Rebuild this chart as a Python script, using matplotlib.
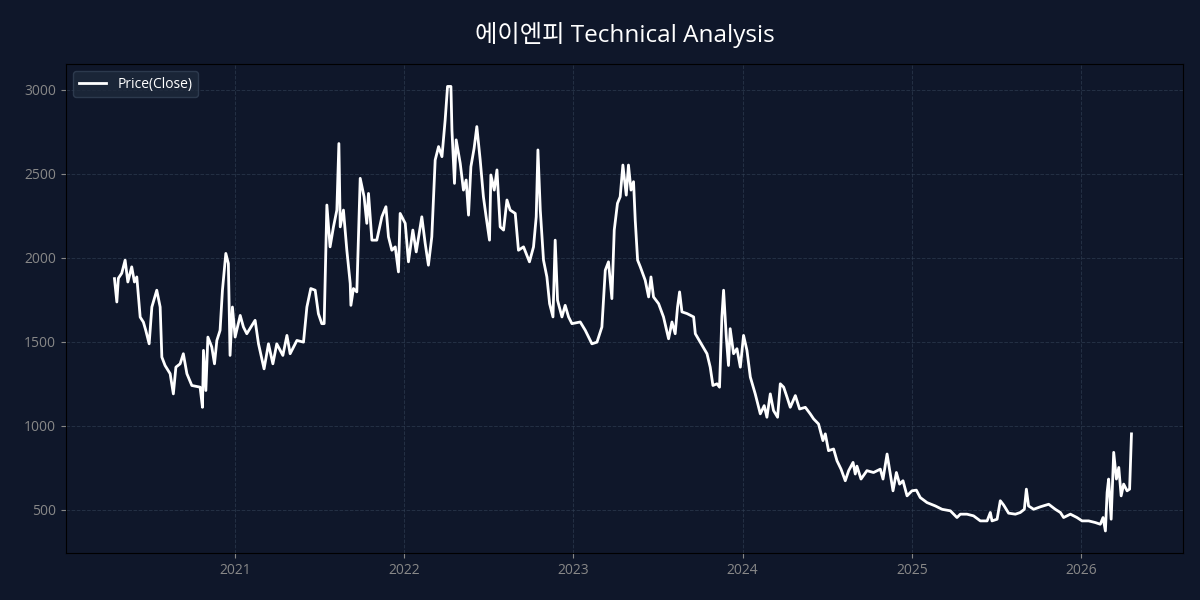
import pandas as pd
import matplotlib
matplotlib.use("Agg")
import matplotlib.pyplot as plt

# =========================
# DATA
# dates as decimal years, close price in KRW
# =========================

years = [
    2020.287, 2020.301, 2020.310, 2020.330, 2020.350, 2020.366, 2020.389, 2020.405,
    2020.419, 2020.439, 2020.458, 2020.472, 2020.492, 2020.508, 2020.537, 2020.557,
    2020.567, 2020.586, 2020.616, 2020.635, 2020.650, 2020.675, 2020.694, 2020.715,
    2020.744, 2020.793, 2020.807, 2020.813, 2020.827, 2020.839, 2020.862, 2020.878,
    2020.892, 2020.911, 2020.925, 2020.945, 2020.960, 2020.970, 2020.984, 2021.000,
    2021.030, 2021.049,
    2021.069, 2021.118, 2021.138, 2021.171, 2021.197, 2021.223, 2021.246, 2021.282,
    2021.306, 2021.325, 2021.365, 2021.404, 2021.424, 2021.447, 2021.473, 2021.492,
    2021.512, 2021.526, 2021.542, 2021.561, 2021.581, 2021.601, 2021.613, 2021.621,
    2021.640, 2021.660, 2021.680, 2021.684, 2021.699, 2021.719, 2021.739, 2021.762,
    2021.778, 2021.788, 2021.808, 2021.837, 2021.867, 2021.891, 2021.906, 2021.926,
    2021.946, 2021.965, 2021.975, 2022.005,
    2022.024, 2022.050, 2022.070, 2022.103, 2022.123, 2022.142, 2022.162, 2022.182,
    2022.202, 2022.222, 2022.241, 2022.255, 2022.275, 2022.281, 2022.296, 2022.306,
    2022.330, 2022.349, 2022.365, 2022.379, 2022.393, 2022.412, 2022.428, 2022.448,
    2022.467, 2022.483, 2022.503, 2022.511, 2022.531, 2022.547, 2022.566, 2022.586,
    2022.606, 2022.625, 2022.655, 2022.674, 2022.704, 2022.739, 2022.763, 2022.779,
    2022.789, 2022.803, 2022.822, 2022.842, 2022.858, 2022.878, 2022.891, 2022.905,
    2022.931, 2022.950, 2022.970,
    2022.990, 2023.039, 2023.069, 2023.108, 2023.138, 2023.167, 2023.187, 2023.206,
    2023.226, 2023.240, 2023.259, 2023.275, 2023.291, 2023.311, 2023.324, 2023.339,
    2023.354, 2023.364, 2023.378, 2023.394, 2023.423, 2023.443, 2023.457, 2023.472,
    2023.502, 2023.531, 2023.561, 2023.581, 2023.600, 2023.614, 2023.626, 2023.640,
    2023.670, 2023.709,
    2023.719, 2023.748, 2023.788, 2023.807, 2023.823, 2023.847, 2023.862, 2023.876,
    2023.886, 2023.902, 2023.915, 2023.925, 2023.945, 2023.965, 2023.985, 2024.004,
    2024.024, 2024.044, 2024.073, 2024.103, 2024.126, 2024.142, 2024.162, 2024.181,
    2024.205, 2024.221, 2024.241, 2024.261, 2024.280, 2024.310, 2024.335, 2024.369,
    2024.398, 2024.418, 2024.447, 2024.473, 2024.487, 2024.506, 2024.536, 2024.556,
    2024.580, 2024.605, 2024.625, 2024.651, 2024.664, 2024.674, 2024.698,
    2024.733, 2024.772, 2024.812, 2024.828, 2024.852, 2024.871, 2024.887, 2024.907,
    2024.926, 2024.946, 2024.970, 2024.999, 2025.025, 2025.048, 2025.088, 2025.137,
    2025.177, 2025.226, 2025.265, 2025.285, 2025.324, 2025.363, 2025.403, 2025.443,
    2025.462, 2025.472, 2025.502, 2025.521, 2025.541, 2025.570,
    2025.610, 2025.639, 2025.663, 2025.675, 2025.688, 2025.718, 2025.758, 2025.807,
    2025.846, 2025.876, 2025.895, 2025.935, 2025.974, 2026.004, 2026.043, 2026.083,
    2026.112, 2026.128, 2026.142, 2026.152, 2026.161, 2026.176, 2026.191, 2026.207,
    2026.221, 2026.235, 2026.250, 2026.270, 2026.285, 2026.296,
]

close = [
    1876, 1737, 1878, 1908, 1986, 1856, 1946, 1856,
    1886, 1647, 1617, 1568, 1488, 1707, 1807, 1707,
    1409, 1359, 1310, 1190, 1349, 1369, 1429, 1310,
    1240, 1230, 1110, 1449, 1210, 1528, 1469, 1369,
    1508, 1568, 1807, 2026, 1966, 1419, 1707, 1528,
    1657, 1588,
    1548, 1628, 1488, 1339, 1488, 1369, 1488, 1419,
    1538, 1429, 1508, 1498, 1707, 1817, 1807, 1667,
    1608, 1608, 2314, 2065, 2184, 2284, 2680, 2184,
    2284, 2045, 1847, 1717, 1817, 1797, 2473, 2363,
    2205, 2383, 2105, 2105, 2244, 2304, 2125, 2045,
    2065, 1916, 2264, 2205,
    1976, 2165, 2035, 2244, 2085, 1956, 2125, 2582,
    2662, 2602, 2821, 3020, 3020, 2761, 2443, 2702,
    2562, 2403, 2463, 2254, 2542, 2652, 2781, 2582,
    2363, 2244, 2105, 2493, 2403, 2523, 2184, 2165,
    2344, 2284, 2264, 2045, 2065, 1976, 2065, 2244,
    2642, 2284, 1986, 1886, 1727, 1648, 2105, 1747,
    1648, 1717, 1648,
    1608, 1618, 1568, 1488, 1498, 1588, 1926, 1976,
    1757, 2165, 2324, 2363, 2552, 2373, 2552, 2403,
    2453, 2224, 1986, 1946, 1866, 1767, 1886, 1767,
    1727, 1648, 1518, 1618, 1548, 1707, 1797, 1678,
    1668, 1648,
    1548, 1498, 1429, 1349, 1240, 1250, 1230, 1648,
    1807, 1528, 1359, 1578, 1429, 1459, 1349, 1538,
    1449, 1290, 1190, 1071, 1120, 1051, 1190, 1091,
    1051, 1250, 1230, 1170, 1110, 1180, 1100, 1110,
    1071, 1041, 1011, 912, 952, 852, 862, 792,
    742, 673, 733, 782, 713, 760, 683,
    733, 722, 742, 683, 832, 713, 613, 722,
    653, 673, 583, 613, 617, 573, 543, 523,
    503, 494, 454, 474, 474, 464, 434, 434,
    484, 434, 444, 554, 528, 480,
    474, 484, 503, 623, 523, 503, 518, 533,
    503, 484, 454, 474, 454, 434, 434, 424,
    414, 454, 374, 603, 683, 444, 842, 683,
    752, 583, 653, 613, 623, 952,
]

stock_name = "에이엔피"

# =========================
# BUILD SERIES
# =========================

yr = pd.Series(years)
dates = pd.Timestamp("2021-01-01") + pd.to_timedelta((yr - 2021) * 365.25, unit="D")
price = pd.Series(close, index=dates)

# =========================
# STYLE
# =========================

bg = "#0f172a"
plt.rcParams["font.family"] = ["Open Sans", "Noto Sans CJK KR", "DejaVu Sans"]

fig = plt.figure(figsize=(12, 6), dpi=100, facecolor=bg)
ax = fig.add_axes([0.055, 0.078, 0.931, 0.815])
ax.set_facecolor(bg)

ax.plot(price.index, price.values, color="white", linewidth=2, label="Price(Close)")

# keep the left edge just past new year 2020, like the reference
ax.set_xlim(pd.Timestamp("2020-01-02"), pd.Timestamp("2026-08-09"))

ax.set_title(
    f"{stock_name} Technical Analysis",
    color="white",
    fontsize=17.5,
    pad=16
)

ax.grid(True, color="#334155", linestyle="--", linewidth=0.7, alpha=0.6)
ax.tick_params(colors="#888888", labelsize=10, labelcolor="#888888")
for spine in ax.spines.values():
    spine.set_color("black")

leg = ax.legend(
    loc="upper left",
    facecolor="#1e293b",
    edgecolor="#334155",
    fontsize=10,
    labelcolor="white"
)

plt.savefig("out.png", dpi=100, facecolor=bg)
